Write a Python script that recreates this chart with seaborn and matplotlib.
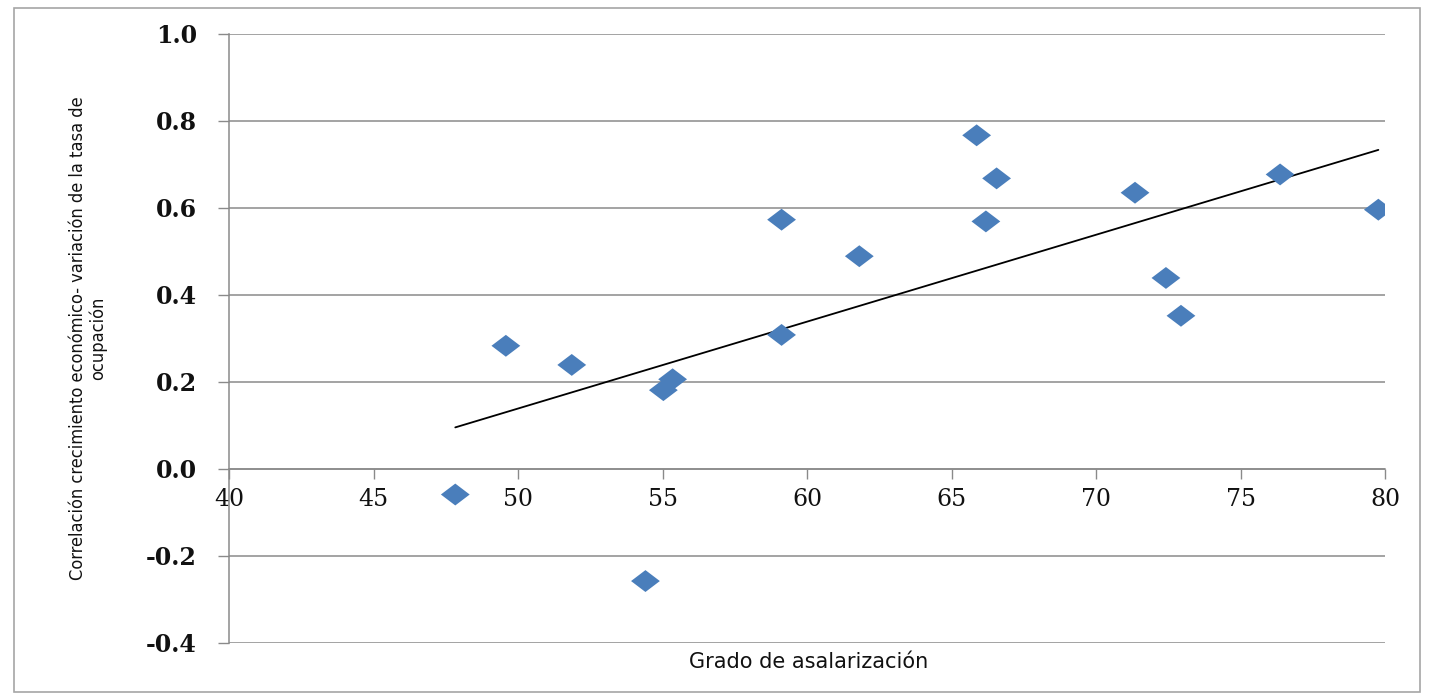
import numpy as np
import pandas as pd
import seaborn as sns
import matplotlib
matplotlib.use("Agg")
from matplotlib import pyplot as plt
from matplotlib.path import Path
from matplotlib.markers import MarkerStyle
from matplotlib.patches import Rectangle

# DATA
grado = [47.83, 49.58, 51.86, 54.41, 55.03, 55.35, 59.12, 59.12, 61.81,
         65.87, 66.19, 66.56, 71.35, 72.42, 72.94, 76.37, 79.77]
correl = [-0.059, 0.283, 0.239, -0.258, 0.181, 0.206, 0.573, 0.308, 0.489,
          0.767, 0.569, 0.668, 0.635, 0.439, 0.352, 0.677, 0.596]
xticks = [40, 45, 50, 55, 60, 65, 70, 75, 80]
yticks = [-0.4, -0.2, 0.0, 0.2, 0.4, 0.6, 0.8, 1.0]
ytick_labels = ['-0.4', '-0.2', '0.0', '0.2', '0.4', '0.6', '0.8', '1.0']

df = pd.DataFrame({'grado': grado, 'correl': correl})

sns.set_style('white')
plt.rcParams['axes.unicode_minus'] = False

fig = plt.figure(figsize=(14.32, 6.98), dpi=100)
ax = fig.add_axes([229 / 1432, 1 - 642.8 / 698, (1385 - 229) / 1432, (642.8 - 34) / 698])

# wide excel-like diamond
diamond = MarkerStyle(Path([(-1, 0), (0, 0.76), (1, 0), (0, -0.76), (-1, 0)],
                           [Path.MOVETO, Path.LINETO, Path.LINETO, Path.LINETO, Path.CLOSEPOLY]))

sns.regplot(data=df, x='grado', y='correl', scatter=False, ci=None, truncate=True,
            color='black', line_kws={'lw': 1.3, 'zorder': 2}, ax=ax)
sns.scatterplot(data=df, x='grado', y='correl', marker=diamond, s=430,
                color='#4a7ebb', edgecolor='none', linewidth=0, zorder=3, ax=ax)

ax.set_xlim(40, 80)
ax.set_ylim(-0.4, 1.0)
ax.set_xticks(xticks)
ax.set_yticks(yticks)
ax.set_yticklabels(ytick_labels)

gray = '#8a8a8a'
ax.yaxis.grid(True, color=gray, lw=1.1)
ax.xaxis.grid(False)
for s in ['top', 'right']:
    ax.spines[s].set_visible(False)
ax.spines['bottom'].set_position(('data', 0))
ax.spines['bottom'].set_color(gray)
ax.spines['left'].set_color(gray)
ax.spines['bottom'].set_linewidth(1.1)
ax.spines['left'].set_linewidth(1.1)

ax.tick_params(axis='x', direction='out', length=7, width=1, color=gray, pad=7,
               labelsize=17, labelcolor='#111111', bottom=True)
ax.tick_params(axis='y', direction='out', length=8, width=1, color=gray, pad=15,
               labelsize=17, labelcolor='#111111', left=True)
for lab in ax.get_xticklabels():
    lab.set_family('DejaVu Serif')
for lab in ax.get_yticklabels():
    lab.set_family('DejaVu Serif')
    lab.set_weight('bold')

ax.set_xlabel('')
ax.set_ylabel('')
fig.text(809 / 1432, 1 - 662 / 698, 'Grado de asalarización', ha='center', va='center',
         fontsize=15, color='#111111', family='DejaVu Sans')
fig.text(88 / 1432, 1 - 338 / 698,
         'Correlación crecimiento económico- variación de la tasa de\nocupación',
         rotation=90, ha='center', va='center', multialignment='center',
         fontsize=13.1, color='#111111', linespacing=1.1,
         family='DejaVu Sans', fontstretch='condensed')

fig.patches.append(Rectangle((14 / 1432, 1 - 692 / 698), (1420 - 14) / 1432, (692 - 8) / 698,
                             transform=fig.transFigure, fill=False, ec='#a6a6a6', lw=1.2))

fig.savefig('out.png', dpi=100, facecolor='white')
